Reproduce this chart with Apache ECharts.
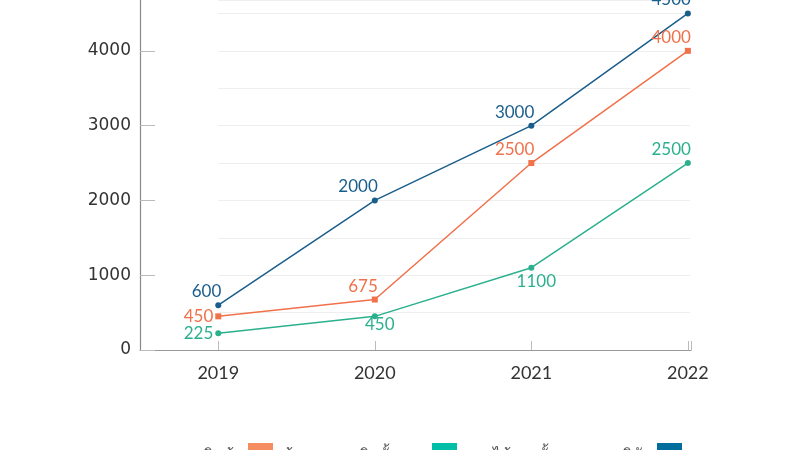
<!DOCTYPE html>
<html>
<head>
<meta charset="utf-8">
<script src="https://cdn.jsdelivr.net/npm/echarts@6/dist/echarts.min.js"></script>
<style>html,body{margin:0;padding:0;background:#fff}#c{width:800px;height:450px}</style>
</head>
<body>
<div id="c"></div>
<script>
var years = [2019, 2020, 2021, 2022];
var seriesNames = ['ยอดขายสินค้า', 'ต้นทุนการผลิตทั้งหมด', 'รายได้รวมทั้งหมดของบริษัท'];
var orangeValues = [450, 675, 2500, 4000];
var greenValues = [225, 450, 1100, 2500];
var blueValues = [600, 2000, 3000, 4500];
var yTicks = [0, 1000, 2000, 3000, 4000];

var orangeLabelPos = ['left', 'top', 'top', 'top'];
var greenLabelPos = ['left', 'bottom', 'bottom', 'top'];
var blueLabelPos = ['top', 'top', 'top', 'top'];
var greenBottomShift = [0, -5, 0, 0];

var colors = { orange: '#f0714a', green: '#2bb08e', blue: '#1a5e8c' };
var legendColors = { orange: '#f58d60', green: '#00bfa6', blue: '#006d9c' };
var numFont = 'Lato';

function pts(vals, posArr, color, shift) {
  return vals.map(function (v, i) {
    var p = posArr[i];
    var lab = { position: p, color: color };
    if (p === 'top') { lab.align = 'right'; lab.offset = [3, 0]; }
    if (p === 'bottom') { lab.offset = [5, shift ? shift[i] : 0]; }
    return { value: [years[i], v], label: lab, itemStyle: { color: color } };
  });
}

function mk(name, vals, posArr, color, lcolor, sym, shift) {
  return {
    name: name, type: 'line', xAxisIndex: 0, yAxisIndex: 0,
    data: pts(vals, posArr, color, shift),
    symbol: sym, symbolSize: 6,
    lineStyle: { color: color, width: 1.5 },
    itemStyle: { color: lcolor },
    emphasis: { disabled: true },
    label: { show: true, fontFamily: numFont, fontSize: 17, distance: 2,
      formatter: function (p) { return String(p.value[1]); } }
  };
}

var chart = echarts.init(document.getElementById('c'), null, { renderer: 'canvas' });
var s1 = mk(seriesNames[0], orangeValues, orangeLabelPos, colors.orange, legendColors.orange, 'rect');
var s2 = mk(seriesNames[1], greenValues, greenLabelPos, colors.green, legendColors.green, 'circle', greenBottomShift);
var s3 = mk(seriesNames[2], blueValues, blueLabelPos, colors.blue, legendColors.blue, 'circle');

chart.setOption({
  animation: false,
  backgroundColor: '#fff',
  legend: {
    left: 142, top: 431, align: 'right', itemWidth: 25, itemHeight: 14, itemGap: 10,
    icon: 'rect',
    formatter: function (name) { return '\n' + name; },
    textStyle: { fontSize: 15.5, lineHeight: 12, color: '#555' },
    data: seriesNames
  },
  grid: [
    { left: 140, right: 109, top: 0, bottom: 100 },
    { left: 218, right: 110, top: 0, bottom: 100 }
  ],
  xAxis: [
    { type: 'value', gridIndex: 0, min: 2018.5, max: 2022.02,
      axisLine: { lineStyle: { color: '#999', width: 1.2 } },
      axisTick: { show: true, inside: true, length: 9, lineStyle: { color: '#bbb' },
        customValues: [2019, 2020, 2021, 2022, 2022.02] },
      axisLabel: { customValues: years, fontFamily: numFont, fontSize: 18, color: '#333', margin: 14,
        formatter: function (v) { return String(v); } },
      splitLine: { show: false } },
    { type: 'value', gridIndex: 1, min: 0, max: 1, show: false }
  ],
  yAxis: [
    { type: 'value', gridIndex: 0, min: 0, max: 4680, interval: 1000,
      axisLine: { show: true, lineStyle: { color: '#888', width: 1.2 } },
      axisTick: { show: true, inside: true, length: 15, lineStyle: { color: '#bbb' },
        customValues: yTicks },
      axisLabel: { customValues: yTicks, fontFamily: 'DejaVu Sans', fontSize: 17, color: '#333', margin: 9,
        formatter: function (v) { return String(v); } },
      splitLine: { show: false } },
    { type: 'value', gridIndex: 1, min: 0, max: 4680, interval: 500,
      axisLine: { show: false }, axisTick: { show: false }, axisLabel: { show: false },
      splitLine: { show: true, lineStyle: { color: '#eeeeee', width: 1 } } }
  ],
  series: [s1, s2, s3]
});
</script>
</body>
</html>
